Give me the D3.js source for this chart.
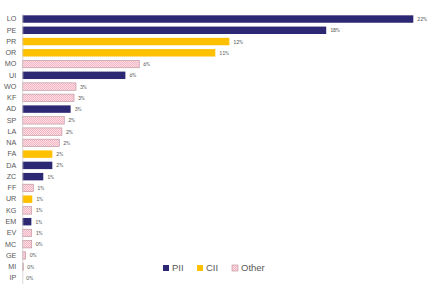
<!DOCTYPE html>
<html><head><meta charset="utf-8">
<script src="https://cdn.jsdelivr.net/npm/d3@7"></script>
<style>body{margin:0;background:#fff}svg{display:block;font-family:Calibri,Carlito,"Liberation Sans",Arial,sans-serif}</style>
</head><body>
<svg id="c" width="433" height="286"></svg>
<script>
const categories = ["LO","PE","PR","OR","MO","UI","WO","KF","AD","SP","LA","NA","FA","DA","ZC","FF","UR","KG","EM","EV","MC","GE","MI","IP"];
const values = [22,17.1,11.65,10.86,6.58,5.8,3.02,2.91,2.72,2.36,2.23,2.08,1.69,1.69,1.18,0.62,0.56,0.53,0.51,0.53,0.53,0.19,0.06,0];
const valueLabels = ["22%","18%","12%","11%","6%","6%","3%","3%","3%","2%","2%","2%","2%","2%","1%","1%","1%","1%","1%","1%","0%","0%","0%","0%"];
const groups = ["PII","PII","CII","CII","Other","PII","Other","Other","PII","Other","Other","Other","CII","PII","PII","Other","CII","Other","PII","Other","Other","Other","Other","Other"];
const seriesNames = ["PII","CII","Other"];

const svg = d3.select("#c");
const defs = svg.append("defs");
const pat = defs.append("pattern").attr("id","pk").attr("width",2).attr("height",2).attr("patternUnits","userSpaceOnUse");
pat.append("rect").attr("width",2).attr("height",2).attr("fill","#fde0e6");
pat.append("rect").attr("width",1).attr("height",1).attr("fill","#f2b3c2");
pat.append("rect").attr("x",1).attr("y",1).attr("width",1).attr("height",1).attr("fill","#f2b3c2");

const fills = {PII:"#2d2874", CII:"#ffc000", Other:"url(#pk)"};
const strokes = {PII:"none", CII:"none", Other:"#b88f98"};

const x = d3.scaleLinear().domain([0,22]).range([22.3,413.3]);
const y = d3.scaleBand().domain(categories).range([13.4,283.6]).paddingInner(0.34).paddingOuter(0.17);

const data = categories.map((c,i)=>({c, v:values[i], l:valueLabels[i], g:groups[i]}));

svg.selectAll("rect.bar").data(data).join("rect").attr("class","bar")
  .attr("x", x(0)).attr("y", d=>y(d.c)).attr("width", d=>Math.max(0, x(d.v)-x(0))).attr("height", y.bandwidth())
  .attr("fill", d=>fills[d.g]).attr("stroke", d=>strokes[d.g]).attr("stroke-width",0.6);

const ax = svg.append("g").attr("transform",`translate(${x(0)},0)`).call(d3.axisLeft(y).tickSize(0).tickPadding(6));
ax.select(".domain").attr("stroke","#d0d0d0").attr("stroke-width",0.8);
ax.selectAll("text").attr("font-size",7.2).attr("fill","#595959").attr("font-family","'Liberation Sans',Arial,sans-serif");

svg.selectAll("text.vl").data(data).join("text").attr("class","vl")
  .attr("x", d=>x(d.v)+4).attr("y", d=>y(d.c)+y.bandwidth()/2).attr("dy","0.35em")
  .attr("font-size",5.6).attr("fill","#595959").text(d=>d.l);

const lg = svg.append("g");
const lx = [163,197,232];
seriesNames.forEach((s,i)=>{
  lg.append("rect").attr("x",lx[i]).attr("y",265).attr("width",6).attr("height",6)
    .attr("fill",fills[s]).attr("stroke",strokes[s]).attr("stroke-width",0.6);
  lg.append("text").attr("x",lx[i]+9).attr("y",268).attr("dy","0.35em").attr("font-size",9.5)
    .attr("fill","#595959").attr("font-family","'Liberation Sans',Arial,sans-serif").text(s);
});
</script>
</body></html>
